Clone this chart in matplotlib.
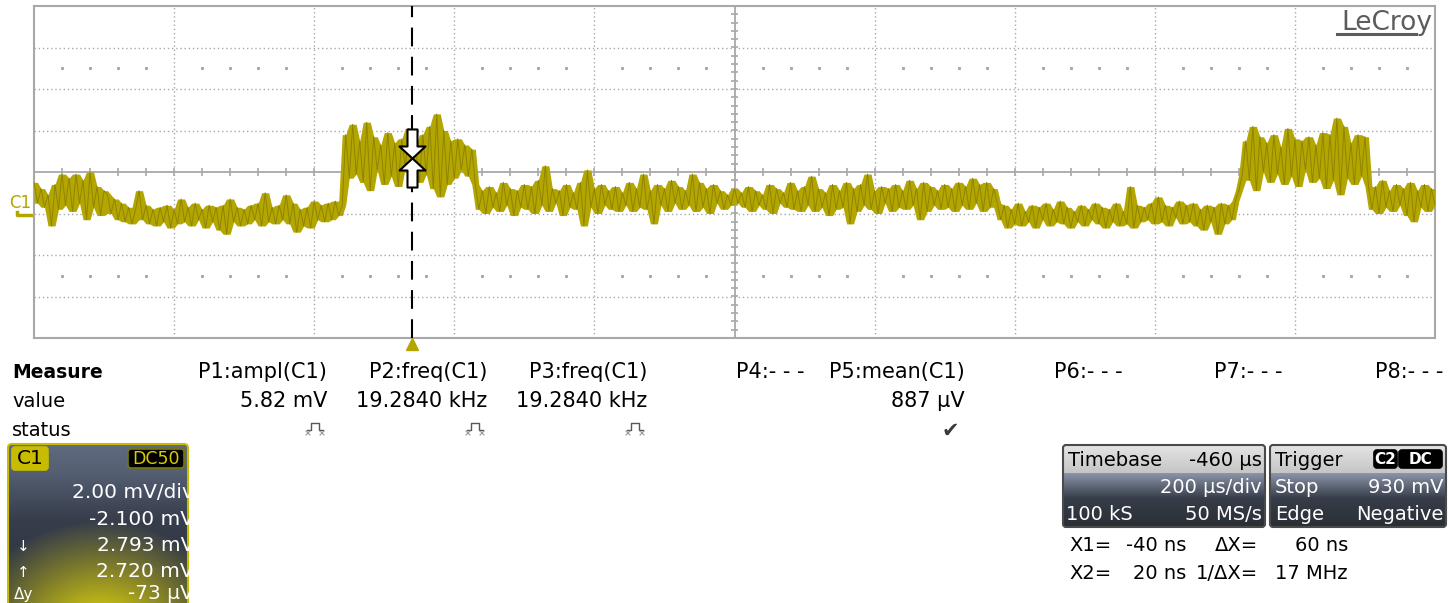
#!/usr/bin/env python3

import numpy as np
import matplotlib.pyplot as plt
from matplotlib.patches import FancyBboxPatch
from matplotlib.path import Path
from matplotlib.colors import to_rgb
from matplotlib.transforms import offset_copy

W, H = 1449, 603

# scope settings shown on screen
t_per_div_us = 200
delay_us = -460
mv_per_div = 2.00
offset_mv = -2.100
t_start_us = -540
t_step_us = 5
cursor_t_us = 0
cursor_v_mv = [2.793, 2.720]

# C1 trace (mV)
seg_a = [1.6, 0.6, 1.3, 0.4, 1.0, -0.5, 1.5, 0.3, 2.0, 0.5, 1.8, 0.2, 2.0, 0.6,
         1.7, -0.2, 2.1, 0.4, 1.4, 0.0, 1.2]
seg_b = [1.0, 0.1, 0.8, -0.2, 0.6, -0.3, 0.4,
         -0.4, 0.3, 1.2, -0.2, 0.5, -0.4, 0.3, -0.5, 0.4, -0.3, 0.5, -0.6, 0.3, -0.4,
         0.8, -0.3, 0.4, -0.5, 0.6, -0.2, 0.3, -0.6, 0.5, -0.3, 0.4, -0.7, 0.5, -0.9,
         0.8, -0.3, 0.4, -0.5, 0.3, -0.4, 0.5, -0.2, 0.6, -0.5, 1.1, -0.3, 0.4, -0.4,
         0.5, -0.2, 1.0, -0.4, 0.6, -0.8, 0.3, -0.5, 0.4, -0.6, 0.7, -0.2, 0.5, -0.3,
         0.6, -0.2, 0.7, 0.0, 0.5]
seg_c = [3.9, 1.8, 4.4, 2.0, 3.6, 1.6, 4.5, 1.2, 3.8, 2.2,
         3.4, 1.5, 4.0, 1.9, 3.5, 1.4, 3.7, 2.3, 4.2, 1.7,
         3.3, 1.6, 3.9, 2.0, 4.3, 1.3, 4.9, 0.9, 4.1, 1.5,
         3.6, 1.8, 3.7, 2.2, 3.4, 1.9, 3.2]
seg_d = [1.5, 0.3, 1.2, 0.1, 1.4, 0.4, 1.1, 0.2, 1.6, 0.5, 1.3, 0.0, 1.2, 0.4, 1.5,
         0.3, 1.4, 0.1, 1.7, 0.5, 2.4, 0.2, 1.3, 0.6, 1.2, 0.0, 1.5, 0.4, 1.1, 0.3,
         1.6, -0.5, 2.2, 0.4, 1.3, 0.1, 1.5, 0.5, 1.2, 0.3, 1.4, 0.2, 1.1, 0.5, 1.6,
         0.2, 1.3, 0.4, 2.0, 0.3, 1.2, -0.4, 1.5, 0.5, 1.3, 0.2, 1.7, 0.6, 1.4, 0.3,
         1.2, 0.5, 2.0, 0.2, 1.6, 0.4, 1.3, 0.1, 1.5, 0.6, 1.2, 0.3, 1.0, 0.5, 1.3,
         0.6, 1.1, 0.4, 1.4, 0.2, 1.2, 0.5, 1.0, 0.3, 1.5, 0.1, 1.3, 0.6, 1.1, 0.4,
         1.6, 0.3, 1.2, 0.2, 1.4, 0.5, 1.9, 0.2, 1.3, 0.4, 1.1, 0.0, 1.5, 0.3, 1.2,
         0.4, 1.6, -0.4, 1.3, 0.2, 1.5, 0.5, 2.0, 0.3, 1.2, 0.1, 1.4, 0.6, 1.3, 0.2,
         1.5, 0.4, 1.2, 0.3, 1.7, 0.5, 1.3, -0.2, 1.6, 0.2, 1.4, 0.5, 1.2, 0.3, 1.5,
         0.4, 1.3, 0.2, 1.6, 0.5, 1.4, 0.3, 1.8, 0.6, 1.5, 0.2, 1.6, 0.4, 1.3, 0.6]
seg_e = [-0.2, 0.5, -0.6, 0.3, -0.4, 0.6, -0.5, 0.2, -0.3, 0.5, -0.6, 0.4, -0.2, 0.6,
         -0.5, 0.3, -0.3, 0.7, -0.4, 0.4, -0.6, 0.2, -0.3, 0.5, -0.5, 0.3, -0.2, 0.6,
         -0.4, 0.4, -0.6, 0.3, -0.3, 0.6, -0.5, 0.2, -0.4, 1.4, -0.6, 0.5, -0.3, 0.4,
         -0.2, 0.6, -0.4, 0.9, -0.3, 0.5, -0.5, 0.4, -0.1, 0.7, -0.4, 0.5, -0.3, 0.6,
         -0.5, 0.3, -0.7, 0.5, -0.3, 0.4, -0.9, 0.6, -0.4, 0.5, -0.2, 0.7, 1.2]
seg_f = [2.0, 3.6, 1.7, 4.3, 1.2, 3.8, 2.1, 3.5, 1.6, 3.9,
         2.0, 3.3, 1.5, 4.2, 1.9, 3.7, 1.4, 3.6, 2.2, 3.8,
         1.6, 3.4, 1.8, 4.0, 1.3, 3.9, 1.7, 4.7, 1.0, 4.3,
         1.8, 3.5, 1.5, 3.9, 1.9, 3.8, 1.4]
seg_g = [0.3, 1.4, 0.1, 1.7, 0.4, 1.2, 0.2, 1.5, 0.5, 1.3, 0.0, 1.6, -0.3, 1.2,
         0.4, 1.5, 0.2, 1.3, 0.5]

trace_mv = np.array(seg_a + seg_b + seg_c + seg_d + seg_e + seg_f + seg_g)
time_us = t_start_us + t_step_us * np.arange(len(trace_mv))

measure_heads = ["P1:ampl(C1)", "P2:freq(C1)", "P3:freq(C1)", "P4:- - -",
                 "P5:mean(C1)", "P6:- - -", "P7:- - -", "P8:- - -"]
measure_values = ["5.82 mV", "19.2840 kHz", "19.2840 kHz", "", "887 µV", "", "", ""]
measure_status = ["pulse", "pulse", "pulse", "", "ok", "", "", ""]
measure_right = [327, 487, 647, 805, 965, 1123, 1283, 1443]

c1_lines = ["2.00 mV/div", "-2.100 mV", "2.793 mV", "2.720 mV", "-73 µV"]
c1_marks = ["", "", "↓", "↑", "Δy"]

TRACE = "#b3a600"
TRACE_DARK = "#8f8400"
GRID = "#a8a8a8"
FONT = 13.5
TABLE_FONT = 15

fig = plt.figure(figsize=(W / 100, H / 100), dpi=100)
fig.patch.set_facecolor("white")

# pixel-space layer for all the panels around the screen
bg = fig.add_axes([0, 0, 1, 1])
bg.set_xlim(0, W)
bg.set_ylim(H, 0)
bg.axis("off")

ax = fig.add_axes([34 / W, 1 - 338 / H, 1401 / W, 332 / H])
t_lo = t_start_us
t_hi = t_start_us + 10 * t_per_div_us
t_mid = (t_lo + t_hi) / 2
v_mid = -offset_mv
v_lo, v_hi = v_mid - 4 * mv_per_div, v_mid + 4 * mv_per_div
ax.set_xlim(t_lo, t_hi)
ax.set_ylim(v_lo, v_hi)
ax.set_xticks([])
ax.set_yticks([])
for sp in ax.spines.values():
    sp.set_color(GRID)
    sp.set_linewidth(1.5)

# graticule
gx = np.arange(t_lo + t_per_div_us, t_hi, t_per_div_us)
gy = np.arange(v_lo + mv_per_div, v_hi - 0.01, mv_per_div)
ax.vlines(gx[np.abs(gx - t_mid) > 1], v_lo, v_hi, color=GRID, lw=1,
          linestyles=(0, (1, 2)), zorder=1)
ax.hlines(gy[np.abs(gy - v_mid) > 0.01], t_lo, t_hi, color=GRID, lw=1,
          linestyles=(0, (1, 2)), zorder=1)
ax.axvline(t_mid, color=GRID, lw=1.3, zorder=1)
ax.axhline(v_mid, color=GRID, lw=1.3, zorder=1)
tick_t = np.arange(t_lo, t_hi + 1, t_per_div_us / 5)
ax.vlines(tick_t, v_mid - 0.17, v_mid + 0.17, color=GRID, lw=1.2, zorder=1)
tick_v = np.arange(v_lo, v_hi + 0.01, mv_per_div / 5)
ax.hlines(tick_v, t_mid - 5, t_mid + 5, color=GRID, lw=1.2, zorder=1)
dot_t = tick_t[np.abs(((tick_t - t_lo) % t_per_div_us)) > 1]
for dv in (v_mid + 2.5 * mv_per_div, v_mid - 2.5 * mv_per_div):
    ax.plot(dot_t, np.full(len(dot_t), dv), "s", ms=1.2, color=GRID, zorder=1)

# trace: filled between the neighbouring samples, like the persistence band
padded = np.pad(trace_mv, 1, mode="edge")
band_lo = np.minimum.reduce([padded[:-2], padded[1:-1], padded[2:]])
band_hi = np.maximum.reduce([padded[:-2], padded[1:-1], padded[2:]])
ax.fill_between(time_us, band_lo, band_hi, color=TRACE, lw=0, zorder=3)
ax.plot(time_us, trace_mv, color=TRACE_DARK, lw=0.7, zorder=3)

# cursor line and marker
ax.axvline(cursor_t_us, color="black", lw=1.5, linestyle=(0, (9, 5)), zorder=4)
star = [(-5, 29), (5, 29), (5, 12), (13, 12), (0, 0), (13, -12), (5, -12),
        (5, -29), (-5, -29), (-5, -12), (-13, -12), (0, 0), (-13, 12), (-5, 12),
        (-5, 29)]
ax.plot([cursor_t_us], [np.mean(cursor_v_mv)], marker=Path(star, closed=True),
        ms=41.8, mfc="white", mec="black", mew=1.5, zorder=5)

# trigger point marker below the screen
trig_tr = offset_copy(ax.transData, fig=fig, x=0, y=-6, units="dots")
ax.plot([0], [v_lo], marker="^", ms=9, color=TRACE, mec=TRACE,
        transform=trig_tr, clip_on=False, zorder=5)

# logo sits inside the screen, so it is drawn with the screen axes
ax.text(1432, 30, "LeCroy", color="#5c5c5c", fontsize=19, ha="right",
        va="baseline", transform=bg.transData, zorder=6)
ax.plot([1337, 1416], [34, 34], color="#5c5c5c", lw=2.2, transform=bg.transData,
        clip_on=False, zorder=6)

# channel ground marker
zero_y = 171 + (v_mid - 0) / mv_per_div * 41.5
bg.text(20, zero_y - 12, "C1", color=TRACE, fontsize=12, ha="center", va="center")
bg.plot([17, 17, 34], [zero_y - 3, zero_y, zero_y], color=TRACE, lw=2.5)

# measurement table
bg.text(12, 378, "Measure", fontsize=FONT, fontweight="bold", va="baseline")
bg.text(12, 407, "value", fontsize=14, va="baseline")
bg.text(12, 436, "status", fontsize=14, va="baseline")


def pulse_icon(cx, cy):
    bg.plot([cx - 8, cx - 4, cx - 4, cx + 4, cx + 4, cx + 8],
            [cy + 3, cy + 3, cy - 4, cy - 4, cy + 3, cy + 3], color="#555555", lw=1)
    for sx in (-7, 7):
        bg.plot([cx + sx - 2, cx + sx + 2], [cy + 4, cy + 8], color="#999999", lw=0.8)
        bg.plot([cx + sx - 2, cx + sx + 2], [cy + 8, cy + 4], color="#999999", lw=0.8)


for head, val, st, xr in zip(measure_heads, measure_values, measure_status,
                             measure_right):
    bg.text(xr, 378, head, fontsize=TABLE_FONT, ha="right", va="baseline")
    if val:
        bg.text(xr, 407, val, fontsize=TABLE_FONT, ha="right", va="baseline")
    if st == "pulse":
        pulse_icon(xr - 12, 427)
    elif st == "ok":
        bg.text(xr - 6, 437, "✔", fontsize=15, color="#3a3a3a", ha="right",
                va="baseline")


def vgrad(y0, y1, stops):
    ys = np.arange(y0, y1)
    out = np.zeros((len(ys), 1, 3))
    pos = [p for p, _ in stops]
    for k in range(3):
        out[:, 0, k] = np.interp(ys, pos, [to_rgb(c)[k] for _, c in stops])
    return out


def rbox(x0, y0, x1, y1, fc="none", ec="#555555", lw=1.2, r=3, z=2):
    p = FancyBboxPatch((x0, y0), x1 - x0, y1 - y0,
                       boxstyle=f"round,pad=0,rounding_size={r}",
                       fc=fc, ec=ec, lw=lw, zorder=z)
    bg.add_patch(p)
    return p


# C1 channel box
c1_box = rbox(8, 444, 188, 612, ec="#c8bc00", lw=1.5, r=4, z=3)
yy, xx = np.mgrid[444:604, 8:188]
base = vgrad(444, 604, [(444, "#5f6a80"), (470, "#566074"), (520, "#363d4b"),
                        (604, "#2e343f")])
glow = np.clip(1 - np.hypot((xx - 100) / 135.0, (yy - 635) / 115.0), 0, 1)[..., None]
glow = np.clip(glow * 1.4, 0, 1)
c1_img = base * (1 - glow) + np.array(to_rgb("#bcb418")) * glow
im = bg.imshow(c1_img, extent=(8, 188, 604, 444), aspect="auto", zorder=2)
im.set_clip_path(c1_box)
rbox(12, 447, 48, 470, fc="#c8bc00", ec="#c8bc00", r=3, z=4)
bg.text(30, 459, "C1", fontsize=14.5, color="black", ha="center", va="center", zorder=5)
rbox(128, 449, 184, 468, fc="black", ec="#777700", r=3, z=4)
bg.text(156, 459, "DC50", fontsize=12.5, color="#d8cc00", ha="center", va="center",
        zorder=5)
for line, mark, yb in zip(c1_lines, c1_marks, [498, 525, 551, 577, 599]):
    t = bg.text(194, yb, line, fontsize=14.5, color="white", ha="right",
                va="baseline", zorder=5)
    t.set_clip_path(c1_box)
    if mark:
        bg.text(14 if mark == "Δy" else 17, yb, mark, fontsize=11, color="white",
                va="baseline", zorder=5)

# timebase and trigger boxes
panel_stops = [(473, "#8a94a7"), (498, "#363d49"), (527, "#2a2f36")]
for x0, x1 in ((1063, 1265), (1270, 1446)):
    body = rbox(x0, 445, x1, 527, ec="#4a4a4a", lw=1.5, r=3, z=3)
    g = bg.imshow(vgrad(473, 527, panel_stops), extent=(x0, x1, 527, 473),
                  aspect="auto", zorder=2)
    g.set_clip_path(body)
    hdr = bg.imshow(vgrad(445, 473, [(445, "#e4e4e4"), (473, "#c4c4c4")]),
                    extent=(x0, x1, 473, 445), aspect="auto", zorder=2)
    hdr.set_clip_path(body)

bg.text(1068, 466, "Timebase", fontsize=14, va="baseline", zorder=5)
bg.text(1262, 466, "-460 µs", fontsize=14, ha="right", va="baseline", zorder=5)
bg.text(1262, 493, "200 µs/div", fontsize=14, color="white", ha="right",
        va="baseline", zorder=5)
bg.text(1066, 520, "100 kS", fontsize=14, color="white", va="baseline", zorder=5)
bg.text(1262, 520, "50 MS/s", fontsize=14, color="white", ha="right",
        va="baseline", zorder=5)

bg.text(1275, 466, "Trigger", fontsize=14, va="baseline", zorder=5)
rbox(1374, 450, 1397, 468, fc="black", ec="black", r=3, z=4)
bg.text(1385.5, 459, "C2", fontsize=11, color="white", fontweight="bold",
        ha="center", va="center", zorder=5)
rbox(1399, 450, 1442, 468, fc="black", ec="black", r=3, z=4)
bg.text(1420.5, 459, "DC", fontsize=11, color="white", fontweight="bold",
        ha="center", va="center", zorder=5)
bg.text(1275, 493, "Stop", fontsize=14, color="white", va="baseline", zorder=5)
bg.text(1443, 493, "930 mV", fontsize=14, color="white", ha="right",
        va="baseline", zorder=5)
bg.text(1275, 520, "Edge", fontsize=14, color="white", va="baseline", zorder=5)
bg.text(1443, 520, "Negative", fontsize=14, color="white", ha="right",
        va="baseline", zorder=5)

# cursor readouts
cursor_rows = [("X1=", "-40 ns", "ΔX=", "60 ns"),
               ("X2=", "20 ns", "1/ΔX=", "17 MHz")]
for (k1, v1, k2, v2), yb in zip(cursor_rows, [551, 579]):
    bg.text(1069, yb, k1, fontsize=14, va="baseline")
    bg.text(1186, yb, v1, fontsize=14, ha="right", va="baseline")
    bg.text(1258, yb, k2, fontsize=14, ha="right", va="baseline")
    bg.text(1348, yb, v2, fontsize=14, ha="right", va="baseline")

fig.savefig("out.png", dpi=100, facecolor="white")
